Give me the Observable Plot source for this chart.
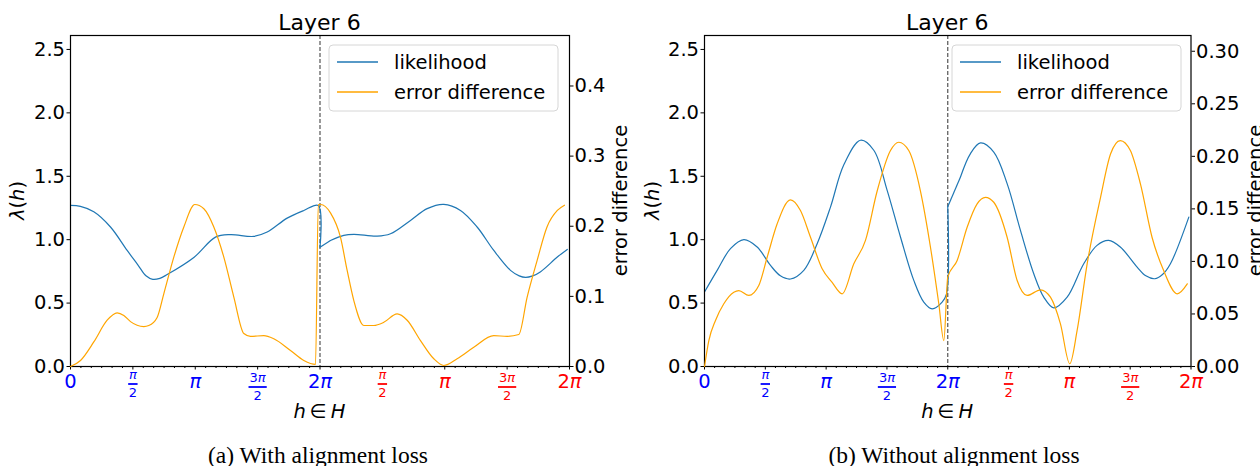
<!DOCTYPE html>
<html>
<head>
<meta charset="utf-8">
<script src="https://cdn.jsdelivr.net/npm/d3@7"></script>
<script src="https://cdn.jsdelivr.net/npm/@observablehq/plot@0.6"></script>
<style>
html, body { margin: 0; padding: 0; background: #fff; width: 1260px; height: 466px; overflow: hidden; font-family: "DejaVu Sans", sans-serif; }
#page { position: relative; width: 1260px; height: 466px; }
#page svg { position: absolute; top: 0; }
</style>
</head>
<body>
<div id="page"></div>
<script>
const PI = Math.PI;

// ---------- Panel (a): With alignment loss ----------
const hLikA = [0, 0.25, 0.587, 1.007, 1.427, 1.70, 1.90, 2.073, 2.25, 2.434, 3.106, 3.651, 4.029, 4.617, 4.953, 5.456, 5.876, 6.24, 6.283, 6.547, 6.883, 7.135, 7.722, 8.058, 8.562, 8.982, 9.401, 9.821, 10.24, 10.66, 11.08, 11.30, 11.46, 11.64, 11.84, 12.26, 12.51];
const likA  = [1.27, 1.262, 1.22, 1.10, 0.915, 0.80, 0.715, 0.687, 0.695, 0.725, 0.86, 1.02, 1.04, 1.026, 1.06, 1.17, 1.23, 1.27, 0.94, 0.994, 1.034, 1.042, 1.028, 1.047, 1.152, 1.245, 1.279, 1.231, 1.10, 0.915, 0.758, 0.715, 0.703, 0.715, 0.748, 0.863, 0.923];
const hErrA = [0, 0.252, 0.587, 0.923, 1.175, 1.343, 1.511, 1.846, 1.972, 2.182, 2.351, 2.602, 2.854, 3.131, 3.358, 3.609, 3.861, 4.113, 4.365, 4.533, 4.869, 5.12, 5.54, 5.876, 6.17, 6.24, 6.30, 6.547, 6.80, 6.967, 7.135, 7.387, 7.638, 7.89, 8.226, 8.478, 8.814, 9.149, 9.401, 9.737, 10.156, 10.66, 10.996, 11.29, 11.50, 11.75, 12.0, 12.26, 12.44];
const errA  = [0, 0.0086, 0.035, 0.066, 0.0766, 0.0728, 0.064, 0.057, 0.0585, 0.070, 0.104, 0.156, 0.199, 0.231, 0.225, 0.199, 0.156, 0.099, 0.047, 0.043, 0.044, 0.0395, 0.0228, 0.0086, 0.003, 0.231, 0.231, 0.219, 0.184, 0.137, 0.094, 0.0585, 0.0585, 0.063, 0.075, 0.066, 0.037, 0.011, 0.0014, 0.011, 0.0275, 0.044, 0.043, 0.0456, 0.099, 0.151, 0.199, 0.2225, 0.23];

// ---------- Panel (b): Without alignment loss ----------
const hLikB = [0, 0.327, 0.671, 1.016, 1.36, 1.705, 1.96, 2.221, 2.565, 2.91, 3.254, 3.599, 4.029, 4.373, 4.718, 5.062, 5.406, 5.664, 5.88, 6.138, 6.25, 6.283, 6.612, 6.87, 7.128, 7.472, 7.817, 8.161, 8.505, 8.763, 9.021, 9.367, 9.796, 10.14, 10.44, 10.74, 11.175, 11.40, 11.63, 11.83, 12.035, 12.51];
const likB  = [0.587, 0.758, 0.929, 1.0, 0.942, 0.797, 0.715, 0.69, 0.758, 0.968, 1.257, 1.59, 1.784, 1.705, 1.389, 1.021, 0.679, 0.508, 0.455, 0.508, 0.57, 1.26, 1.494, 1.679, 1.763, 1.691, 1.442, 1.073, 0.731, 0.547, 0.463, 0.547, 0.81, 0.955, 0.994, 0.942, 0.784, 0.715, 0.692, 0.725, 0.81, 1.178];
const hErrB = [0, 0.112, 0.284, 0.499, 0.757, 0.886, 1.144, 1.402, 1.619, 1.877, 2.221, 2.479, 2.738, 3.039, 3.297, 3.556, 3.857, 4.158, 4.46, 4.804, 5.018, 5.276, 5.578, 5.837, 6.052, 6.182, 6.284, 6.526, 6.784, 7.042, 7.257, 7.472, 7.817, 8.076, 8.334, 8.678, 8.936, 9.194, 9.435, 9.625, 9.884, 10.23, 10.49, 10.74, 11.0, 11.26, 11.56, 11.86, 12.21, 12.47];
const errB  = [0, 0.0247, 0.0438, 0.0597, 0.0707, 0.0723, 0.0676, 0.0771, 0.104, 0.1358, 0.1586, 0.1484, 0.123, 0.093, 0.080, 0.0692, 0.0977, 0.12, 0.167, 0.2055, 0.2134, 0.2055, 0.167, 0.1135, 0.0597, 0.0247, 0.085, 0.1009, 0.1325, 0.1548, 0.161, 0.1563, 0.123, 0.0818, 0.0676, 0.073, 0.066, 0.0406, 0.0026, 0.0343, 0.0977, 0.161, 0.2024, 0.215, 0.2055, 0.1738, 0.123, 0.0913, 0.0692, 0.0787];

// ---------- Axes / labels ----------
const xTickValues = [0, PI / 2, PI, 3 * PI / 2, 2 * PI, 5 * PI / 2, 3 * PI, 7 * PI / 2, 4 * PI];
const xTickLabels = ["0", "π/2", "π", "3π/2", "2π", "π/2", "π", "3π/2", "2π"];
const xTickColors = ["blue", "blue", "blue", "blue", "blue", "red", "red", "red", "red"];
const xMinorTicks = d3.range(0, 49).filter(k => k % 6 !== 0).map(k => k * PI / 12);
const lambdaTicks = [0, 0.5, 1.0, 1.5, 2.0, 2.5];
const errTicksA = [0, 0.1, 0.2, 0.3, 0.4];
const errTicksB = [0, 0.05, 0.10, 0.15, 0.20, 0.25, 0.30];
const seriesNames = ["likelihood", "error difference"];
const seriesColors = ["#1f77b4", "orange"];
const titleText = "Layer 6";
const captions = ["(a) With alignment loss", "(b) Without alignment loss"];

const panels = [
  {left: 0, width: 630, ml: 70, mr: 61, hLik: hLikA, lik: likA, hErr: hErrA, err: errA, errMax: 0.472, errTicks: errTicksA, errFmt: ".1f",
   rLabelX: 626.7, lLabelX: 24, captionX: 318, legendX: 329, caption: captions[0]},
  {left: 630, width: 630, ml: 74, mr: 69.5, hLik: hLikB, lik: likB, hErr: hErrB, err: errB, errMax: 0.315, errTicks: errTicksB, errFmt: ".2f",
   rLabelX: 1261.7, lLabelX: 658.5, captionX: 954, legendX: 952, caption: captions[1]}
];

const H = 430, MT = 35, MB = 64;
const FS = 19.5;

const barSymbol = {
  draw(context, size) {
    const w = Math.sqrt(size / Math.PI);
    context.moveTo(-w, 0);
    context.lineTo(w, 0);
  }
};

function piText(v, str, color, fs, dy) {
  const m = /^(\d*)(π?)$/.exec(str);
  const digits = m[1], hasPi = m[2] === "π";
  const dw = 0.636 * fs, pw = 0.602 * fs;
  const total = digits.length * dw + (hasPi ? pw : 0);
  const split = -total / 2 + digits.length * dw;
  const common = {x: d => d, frameAnchor: "bottom", lineAnchor: "bottom", dy, fill: color, fontSize: fs};
  const out = [];
  if (digits) out.push(Plot.text([v], {...common, text: () => digits, textAnchor: hasPi ? "end" : "middle", dx: hasPi ? split : 0}));
  if (hasPi) out.push(Plot.text([v], {...common, text: () => "π", fontStyle: "italic", textAnchor: digits ? "start" : "middle", dx: digits ? split : 0}));
  return out;
}

function tickLabelMarks() {
  const marks = [];
  xTickValues.forEach((v, i) => {
    const [num, den] = xTickLabels[i].split("/");
    const color = xTickColors[i];
    if (!den) {
      marks.push(...piText(v, num, color, FS, 21));
    } else {
      const wide = num.length > 1;
      const off = wide ? 3 : 0;
      marks.push(...piText(v, num, color, 13, 12.3 + off));
      marks.push(Plot.dot([v], {x: d => d, frameAnchor: "bottom", dy: 17.5 + off, r: wide ? 9.1 : 4.7,
        symbol: barSymbol, stroke: color, strokeWidth: 1.8, fill: "none"}));
      marks.push(...piText(v, den, color, 13, 30.7 + off));
    }
  });
  return marks;
}

const page = document.getElementById("page");

panels.forEach(p => {
  // likelihood: two smooth pieces (before / from 2π) joined by the jump at 2π
  const likData = p.hLik.map((h, i) => ({h, v: p.lik[i], seg: h < 2 * PI - 1e-6 ? "first" : "second"}));
  const firstHalf = likData.filter(d => d.seg === "first");
  const secondHalf = likData.filter(d => d.seg === "second");
  const jump = [{h1: firstHalf[firstHalf.length - 1].h, v1: firstHalf[firstHalf.length - 1].v, h2: secondHalf[0].h, v2: secondHalf[0].v}];
  const errData = p.hErr.map((h, i) => ({h, v: p.err[i]}));

  const base = Plot.plot({
    width: p.width, height: H,
    marginLeft: p.ml, marginRight: p.mr, marginTop: MT, marginBottom: MB,
    style: {fontFamily: "DejaVu Sans", background: "transparent", overflow: "visible"},
    x: {domain: [0, 4 * PI]},
    y: {domain: [0, 2.61]},
    marks: [
      Plot.ruleX([2 * PI], {stroke: "#555", strokeWidth: 1.2, strokeDasharray: "4,2"}),
      Plot.line(likData, {x: "h", y: "v", z: "seg", stroke: seriesColors[0], strokeWidth: 1.2, curve: "catmull-rom"}),
      Plot.link(jump, {x1: "h1", y1: "v1", x2: "h2", y2: "v2", stroke: seriesColors[0], strokeWidth: 1.2}),
      Plot.axisX({ticks: xMinorTicks, tickSize: 2, tickFormat: () => "", label: null}),
      Plot.axisX({ticks: xTickValues, tickSize: 3.5, tickFormat: () => "", label: null}),
      ...tickLabelMarks(),
      Plot.axisY({ticks: lambdaTicks, tickSize: 3.5, tickPadding: 2, tickFormat: d3.format(".1f"), fontSize: FS, label: null}),
      Plot.frame({stroke: "black", strokeWidth: 1.2})
    ]
  });
  base.style.left = p.left + "px";
  page.appendChild(base);

  const twin = Plot.plot({
    width: p.width, height: H,
    marginLeft: p.ml, marginRight: p.mr, marginTop: MT, marginBottom: MB,
    style: {fontFamily: "DejaVu Sans", background: "transparent", overflow: "visible"},
    x: {domain: [0, 4 * PI], axis: null},
    y: {domain: [0, p.errMax]},
    marks: [
      Plot.line(errData, {x: "h", y: "v", stroke: seriesColors[1], strokeWidth: 1.2, curve: "monotone-x"}),
      Plot.axisY({ticks: p.errTicks, anchor: "right", tickSize: 3.5, tickPadding: 1.5, tickFormat: d3.format(p.errFmt), fontSize: FS, label: null})
    ]
  });
  twin.style.left = p.left + "px";
  page.appendChild(twin);
});

// ---------- Annotations (titles, axis labels, legends, captions) ----------
const ann = d3.select("#page").append("svg")
  .attr("width", 1260).attr("height", 466)
  .style("left", "0px").style("pointer-events", "none")
  .attr("font-family", "DejaVu Sans");

panels.forEach(p => {
  const pl = p.left + p.ml, pr = p.left + p.width - p.mr, cx = (pl + pr) / 2, cy = (MT + (H - MB)) / 2;

  ann.append("text").attr("x", cx).attr("y", 30).attr("text-anchor", "middle")
    .attr("font-size", 22).text(titleText);

  const xl = ann.append("text").attr("x", cx).attr("y", 418).attr("text-anchor", "middle").attr("font-size", FS);
  xl.append("tspan").attr("font-style", "italic").text("h");
  xl.append("tspan").text("\u2009∈\u2009");
  xl.append("tspan").attr("font-style", "italic").text("H");

  const yl = ann.append("text").attr("transform", `translate(${p.lLabelX},${cy}) rotate(-90)`)
    .attr("text-anchor", "middle").attr("font-size", FS);
  yl.append("tspan").attr("font-style", "italic").text("λ");
  yl.append("tspan").text("(");
  yl.append("tspan").attr("font-style", "italic").text("h");
  yl.append("tspan").text(")");

  ann.append("text").attr("transform", `translate(${p.rLabelX},${cy}) rotate(-90)`)
    .attr("text-anchor", "middle").attr("font-size", FS).text(seriesNames[1]);

  // legend
  const lg = ann.append("g").attr("transform", `translate(${p.legendX},45)`);
  lg.append("rect").attr("width", 229).attr("height", 66).attr("rx", 4)
    .attr("fill", "white").attr("fill-opacity", 0.8).attr("stroke", "#d6d6d6").attr("stroke-width", 1);
  seriesNames.forEach((name, i) => {
    const y = 17 + i * 30;
    lg.append("line").attr("x1", 8).attr("x2", 49).attr("y1", y).attr("y2", y)
      .attr("stroke", seriesColors[i]).attr("stroke-width", 1.3);
    lg.append("text").attr("x", 65).attr("y", y + 7).attr("font-size", FS).text(name);
  });

  ann.append("text").attr("x", p.captionX).attr("y", 463).attr("text-anchor", "middle")
    .attr("font-family", "Liberation Serif").attr("font-size", 23.5).text(p.caption);
});
</script>
</body>
</html>
